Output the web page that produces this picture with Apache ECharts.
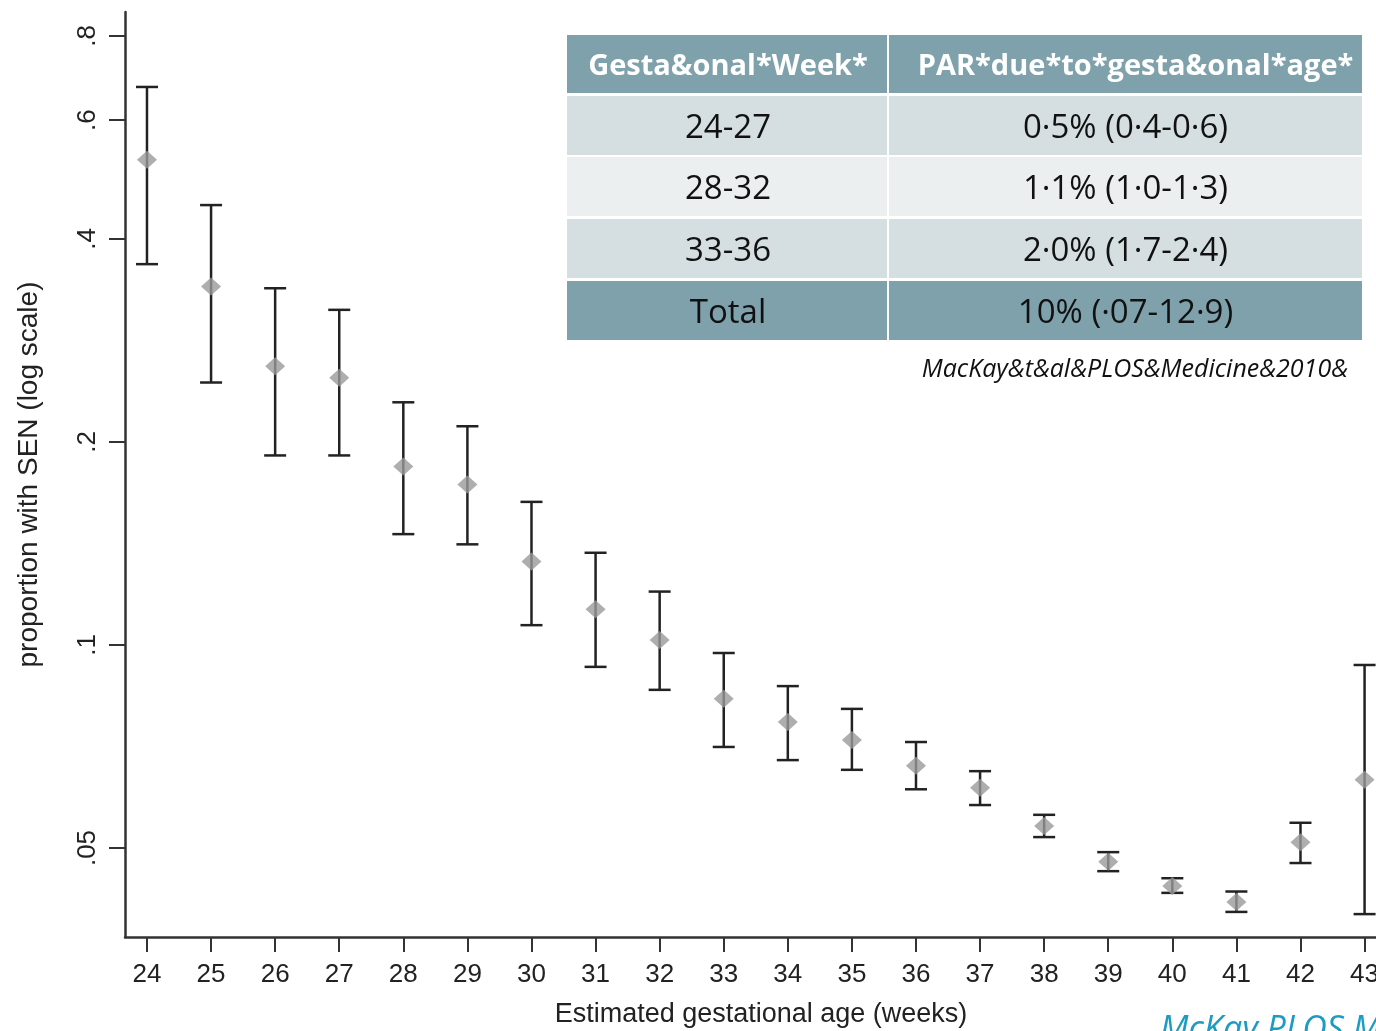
<!DOCTYPE html>
<html>
<head>
<meta charset="utf-8">
<title>SEN by gestational age</title>
<script src="https://cdn.jsdelivr.net/npm/echarts@6/dist/echarts.min.js"></script>
<style>
  html, body { margin: 0; padding: 0; background: #fff; }
  #fig_sen { width: 1376px; height: 1031px; }
</style>
</head>
<body>
<div id="fig_sen"></div>
<script>
// gestational week
var weeks = [24, 25, 26, 27, 28, 29, 30, 31, 32, 33, 34, 35, 36, 37, 38, 39, 40, 41, 42, 43];
// proportion with SEN, point estimate and CI
var propMean = [0.524, 0.340, 0.259, 0.249, 0.184, 0.173, 0.133, 0.113, 0.1017, 0.0832,
                0.0769, 0.0723, 0.0662, 0.0614, 0.0539, 0.0477, 0.0439, 0.0416, 0.0510, 0.0631];
var propLow  = [0.367, 0.245, 0.191, 0.191, 0.146, 0.141, 0.107, 0.0928, 0.0858, 0.0706,
                0.0675, 0.0653, 0.0611, 0.0579, 0.0519, 0.0462, 0.0429, 0.0402, 0.0475, 0.0399];
var propHigh = [0.672, 0.449, 0.338, 0.314, 0.229, 0.211, 0.163, 0.137, 0.120, 0.0973,
                0.0869, 0.0804, 0.0718, 0.0650, 0.0560, 0.0493, 0.0451, 0.0431, 0.0545, 0.0934];

var yTicks = [0.05, 0.1, 0.2, 0.4, 0.6, 0.8];
var xTicks = weeks;

// table in the top right corner
var tableHeader = ['Gesta&onal*Week*', 'PAR*due*to*gesta&onal*age*'];
var tableWeeks = ['24-27', '28-32', '33-36', 'Total'];
var tablePar = ['0·5% (0·4-0·6)', '1·1% (1·0-1·3)', '2·0% (1·7-2·4)', '10% (·07-12·9)'];
var tableCite = 'MacKay&t&al&PLOS&Medicine&2010&';
var footNote = 'McKay PLOS Medicine';

var fig_sen = {
    plot_id: 'fig_sen',
    plot_chart: null,

    build_table: function() {
        var colX = [567, 889, 1362];
        var rowTop = [35, 96, 157, 219, 281];
        var rowH = [58, 59, 59, 59, 59];
        var fills = ['#7fa1ab', '#d5dfe2', '#ebeff0', '#d5dfe2', '#7fa1ab'];
        var els = [];
        for (var r = 0; r < 5; r++) {
            for (var c = 0; c < 2; c++) {
                els.push({
                    type: 'rect',
                    shape: { x: colX[c], y: rowTop[r], width: colX[c + 1] - colX[c] - (c == 0 ? 2 : 0), height: rowH[r] },
                    style: { fill: fills[r] }
                });
                var txt, bold = false, color = '#111';
                if (r == 0) {
                    txt = tableHeader[c]; bold = true; color = '#fff';
                } else {
                    txt = c == 0 ? tableWeeks[r - 1] : tablePar[r - 1];
                }
                els.push({
                    type: 'text',
                    x: (colX[c] + colX[c + 1]) / 2 + (r == 0 && c == 1 ? 10 : 0),
                    y: rowTop[r] + rowH[r] / 2 + 3,
                    style: {
                        text: txt,
                        fill: color,
                        font: (bold ? 'bold 29px' : '33px') + ' "Open Sans", "Noto Sans", sans-serif',
                        align: 'center',
                        verticalAlign: 'middle'
                    }
                });
            }
        }
        els.push({
            type: 'text',
            x: 1348, y: 370,
            style: {
                text: tableCite, fill: '#111',
                font: 'italic 25px "Open Sans", "Noto Sans", sans-serif',
                align: 'right', verticalAlign: 'middle'
            }
        });
        els.push({
            type: 'text',
            x: 1160, y: 1013,
            style: {
                text: footNote, fill: '#1c9cc4',
                font: 'italic 34px "Open Sans", "Noto Sans", sans-serif',
                align: 'left', verticalAlign: 'top'
            }
        });
        return els;
    },

    init: function() {
        var axisColor = '#333';
        var axisFont = '"Liberation Sans", Arial, sans-serif';
        var errData = weeks.map(function(w, i) { return [w, propLow[i], propHigh[i]]; });
        var meanData = weeks.map(function(w, i) { return [w, propMean[i]]; });

        this.option = {
            animation: false,
            backgroundColor: '#fff',
            grid: {
                left: 125,
                right: -11,
                top: 12,
                bottom: 94,
                outerBoundsMode: 'none'
            },
            xAxis: {
                type: 'value',
                min: 23.657,
                max: 43.35,
                name: 'Estimated gestational age (weeks)',
                nameLocation: 'middle',
                nameGap: 64,
                nameTextStyle: {
                    fontFamily: axisFont,
                    fontSize: 27,
                    color: '#222',
                    padding: [0, 0, 0, 10]
                },
                axisLine: { show: true, onZero: false, lineStyle: { color: axisColor, width: 2.5 } },
                axisTick: {
                    show: true, length: 15, customValues: xTicks,
                    lineStyle: { color: axisColor, width: 2 }
                },
                axisLabel: {
                    customValues: xTicks,
                    margin: 25,
                    fontFamily: axisFont,
                    fontSize: 26,
                    color: '#222'
                },
                splitLine: { show: false }
            },
            yAxis: {
                type: 'log',
                min: 0.0369,
                max: 0.868,
                name: 'proportion with SEN (log scale)',
                nameLocation: 'middle',
                nameGap: 82,
                nameTextStyle: {
                    fontFamily: axisFont,
                    fontSize: 28,
                    color: '#222'
                },
                axisLine: { show: true, lineStyle: { color: axisColor, width: 2.5 } },
                axisTick: {
                    show: true, length: 16, customValues: yTicks,
                    lineStyle: { color: axisColor, width: 2 }
                },
                axisLabel: {
                    customValues: yTicks,
                    rotate: 90,
                    margin: 24,
                    fontFamily: axisFont,
                    fontSize: 26,
                    color: '#222',
                    formatter: function(v) {
                        return Number(Number(v).toPrecision(2)).toString().replace(/^0/, '');
                    }
                },
                splitLine: { show: false }
            },
            series: [
                {
                    type: 'custom',
                    name: 'ci',
                    data: errData,
                    renderItem: function(params, api) {
                        var lo = api.coord([api.value(0), api.value(1)]);
                        var hi = api.coord([api.value(0), api.value(2)]);
                        var cap = 11;
                        var st = { stroke: '#222', lineWidth: 2.5 };
                        return {
                            type: 'group',
                            children: [
                                { type: 'line', shape: { x1: lo[0], y1: lo[1], x2: hi[0], y2: hi[1] }, style: st },
                                { type: 'line', shape: { x1: lo[0] - cap, y1: lo[1], x2: lo[0] + cap, y2: lo[1] }, style: st },
                                { type: 'line', shape: { x1: hi[0] - cap, y1: hi[1], x2: hi[0] + cap, y2: hi[1] }, style: st }
                            ]
                        };
                    },
                    z: 2
                },
                {
                    type: 'scatter',
                    name: 'mean',
                    data: meanData,
                    symbol: 'diamond',
                    symbolSize: [20, 18],
                    itemStyle: { color: '#9a9a9a' },
                    z: 3
                }
            ],
            graphic: this.build_table()
        };

        this.plot_chart = echarts.init(document.getElementById(this.plot_id));
        this.plot_chart.setOption(this.option);
    }
};

fig_sen.init();
</script>
</body>
</html>
